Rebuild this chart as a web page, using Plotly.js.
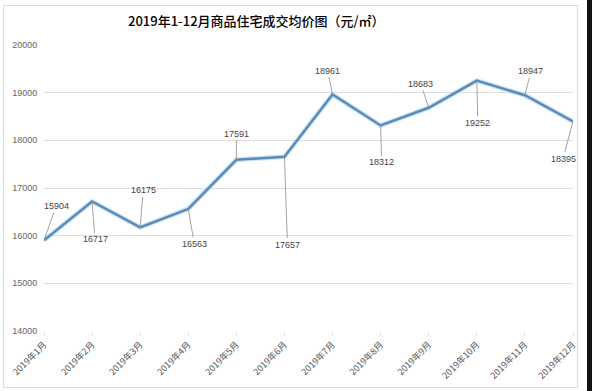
<!DOCTYPE html>
<html>
<head>
<meta charset="utf-8">
<script src="https://cdn.plot.ly/plotly-3.0.1.min.js"></script>
<style>
  html, body { margin: 0; padding: 0; background: #fff; }
  #wrap { position: relative; width: 592px; height: 391px; overflow: hidden; }
  #chart { position: absolute; left: 0; top: 0; width: 592px; height: 391px; }
  #frame { position: absolute; left: 3px; top: 5px; width: 573px; height: 381px; border: 1px solid #dcdcdc; pointer-events: none; }
  #edge { position: absolute; left: 587px; top: 0; width: 5px; height: 391px; background: #111; }
</style>
</head>
<body>
<div id="wrap">
  <div id="chart"></div>
  <div id="frame"></div>
  <div id="edge"></div>
</div>
<script>
const months = ["2019年1月","2019年2月","2019年3月","2019年4月","2019年5月","2019年6月",
                "2019年7月","2019年8月","2019年9月","2019年10月","2019年11月","2019年12月"];
const prices = [15904, 16717, 16175, 16563, 17591, 17657, 18961, 18312, 18683, 19252, 18947, 18395];
const yTicks = [14000, 15000, 16000, 17000, 18000, 19000, 20000];
// label offsets (px) of each value label relative to its point
const labelDx = [12, 3, 3, 6, 0, 3, -5, 1, -8, 1, 6, -10];
const labelDy = [-34, 38, -37, 35, -26, 88, -24, 37, -24, 42, -24, 37];

const annotations = months.map((m, i) => ({
  x: m, y: prices[i], xref: 'x', yref: 'y',
  text: String(prices[i]),
  showarrow: true, arrowhead: 0, arrowwidth: 0.8, arrowcolor: '#8a8a8a',
  ax: labelDx[i], ay: labelDy[i], standoff: 0, startstandoff: 0,
  font: { family: 'Liberation Sans, Arial, sans-serif', size: 9, color: '#444' }
}));

const halo = {
  x: months, y: prices, type: 'scatter', mode: 'lines',
  line: { color: 'rgba(185,220,245,0.7)', width: 5 }, hoverinfo: 'skip'
};
const line = {
  x: months, y: prices, type: 'scatter', mode: 'lines',
  line: { color: '#5b8cb8', width: 2.5 }
};

const layout = {
  width: 592, height: 391,
  margin: { l: 44, r: 19, t: 45, b: 60 },
  paper_bgcolor: '#fff', plot_bgcolor: '#fff',
  showlegend: false,
  title: {
    text: '2019年1-12月商品住宅成交均价图（元/㎡）',
    x: 0.433, xanchor: 'center', y: 0.945, yanchor: 'middle',
    font: { family: 'Noto Sans CJK SC, sans-serif', size: 13, color: '#000', weight: 500 }
  },
  xaxis: {
    type: 'category', range: [0, 11],
    tickvals: months, ticktext: months, tickangle: -45,
    showgrid: false, zeroline: false,
    showline: false, ticks: 'outside', ticklen: 4, tickcolor: '#e0e0e0',
    tickfont: { family: 'Noto Sans CJK SC, sans-serif', size: 9, color: '#555' }
  },
  yaxis: {
    range: [14000, 20000], tickvals: yTicks, ticktext: yTicks.map(String),
    showgrid: true, gridcolor: '#dedede', gridwidth: 1,
    zeroline: false, showline: false, ticks: 'outside', ticklen: 4, tickcolor: '#fff',
    tickfont: { family: 'Liberation Sans, Arial, sans-serif', size: 9, color: '#666' }
  },
  annotations: annotations
};

Plotly.newPlot('chart', [halo, line], layout, { displayModeBar: false, staticPlot: true });
</script>
</body>
</html>
